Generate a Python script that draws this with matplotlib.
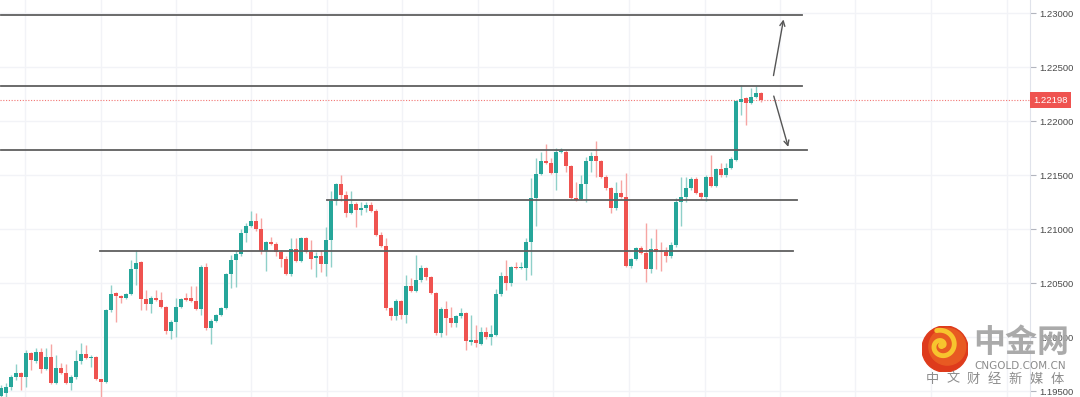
import matplotlib.pyplot as plt
import numpy as np
from matplotlib.patches import Circle

# candle data (EUR/USD)
opens = [1.1946, 1.1949, 1.1954, 1.1963, 1.1967, 1.1963, 1.1986, 1.1978, 1.1987, 1.1971,
         1.1982, 1.1958, 1.1972, 1.1967, 1.1958, 1.1963, 1.1978, 1.1985, 1.1981, 1.1982,
         1.1962, 1.1959, 1.2025, 1.2041, 1.2038, 1.2037, 1.2040, 1.2063, 1.2070, 1.2036,
         1.2031, 1.2037, 1.2035, 1.2028, 1.2006, 1.2014, 1.2028, 1.2037, 1.2037, 1.2034,
         1.2026, 1.2065, 1.2009, 1.2015, 1.2021, 1.2027, 1.2059, 1.2072, 1.2077, 1.2097,
         1.2103, 1.2108, 1.2100, 1.2080, 1.2088, 1.2087, 1.2079, 1.2073, 1.2059, 1.2082,
         1.2071, 1.2092, 1.2079, 1.2074, 1.2075, 1.2068, 1.2090, 1.2126, 1.2142, 1.2132,
         1.2115, 1.2124, 1.2118, 1.2120, 1.2123, 1.2117, 1.2095, 1.2085, 1.2027, 1.2020,
         1.2034, 1.2021, 1.2048, 1.2043, 1.2053, 1.2064, 1.2056, 1.2041, 1.2004, 1.2026,
         1.2018, 1.2013, 1.2020, 1.2023, 1.1996, 1.1998, 1.1994, 1.2005, 1.2000, 1.2002,
         1.2040, 1.2057, 1.2050, 1.2065, 1.2064, 1.2064, 1.2088, 1.2129, 1.2151, 1.2163,
         1.2162, 1.2152, 1.2172, 1.2172, 1.2159, 1.2129, 1.2128, 1.2142, 1.2163, 1.2168,
         1.2163, 1.2149, 1.2138, 1.2120, 1.2134, 1.2130, 1.2066, 1.2073, 1.2083, 1.2078,
         1.2063, 1.2082, 1.2080, 1.2079, 1.2075, 1.2086, 1.2125, 1.2130, 1.2138, 1.2147,
         1.2134, 1.2130, 1.2149, 1.2140, 1.2156, 1.2150, 1.2157, 1.2164, 1.2218, 1.2222,
         1.2217, 1.2223, 1.2226]
highs = [1.1956, 1.1958, 1.1965, 1.1975, 1.1968, 1.1988, 1.1987, 1.1990, 1.1990, 1.1990,
         1.1994, 1.1984, 1.1976, 1.1975, 1.1965, 1.1988, 1.1995, 1.1993, 1.1984, 1.1983,
         1.1962, 1.2026, 1.2049, 1.2042, 1.2039, 1.2041, 1.2072, 1.2081, 1.2071, 1.2044,
         1.2038, 1.2044, 1.2042, 1.2029, 1.2016, 1.2037, 1.2037, 1.2041, 1.2048, 1.2048,
         1.2067, 1.2069, 1.2017, 1.2022, 1.2028, 1.2060, 1.2076, 1.2080, 1.2100, 1.2106,
         1.2117, 1.2115, 1.2111, 1.2089, 1.2093, 1.2088, 1.2081, 1.2075, 1.2092, 1.2092,
         1.2093, 1.2093, 1.2090, 1.2079, 1.2081, 1.2102, 1.2136, 1.2143, 1.2150, 1.2136,
         1.2136, 1.2125, 1.2125, 1.2125, 1.2125, 1.2119, 1.2098, 1.2092, 1.2028, 1.2036,
         1.2035, 1.2058, 1.2055, 1.2076, 1.2067, 1.2065, 1.2057, 1.2042, 1.2028, 1.2034,
         1.2028, 1.2021, 1.2027, 1.2024, 1.2021, 1.2012, 1.2010, 1.2010, 1.2012, 1.2045,
         1.2061, 1.2072, 1.2066, 1.2070, 1.2070, 1.2092, 1.2148, 1.2166, 1.2172, 1.2179,
         1.2166, 1.2175, 1.2175, 1.2174, 1.2160, 1.2144, 1.2150, 1.2167, 1.2172, 1.2182,
         1.2164, 1.2150, 1.2139, 1.2144, 1.2146, 1.2152, 1.2074, 1.2084, 1.2085, 1.2106,
         1.2092, 1.2100, 1.2088, 1.2084, 1.2088, 1.2129, 1.2149, 1.2149, 1.2149, 1.2149,
         1.2135, 1.2150, 1.2169, 1.2157, 1.2162, 1.2162, 1.2167, 1.2220, 1.2234, 1.2223,
         1.2231, 1.2233, 1.2227]
lows = [1.1945, 1.1945, 1.1951, 1.1961, 1.1951, 1.1954, 1.1970, 1.1976, 1.1967, 1.1970,
        1.1957, 1.1957, 1.1966, 1.1957, 1.1951, 1.1962, 1.1975, 1.1980, 1.1973, 1.1961,
        1.1943, 1.1958, 1.2024, 1.2014, 1.2032, 1.2036, 1.2039, 1.2049, 1.2025, 1.2025,
        1.2023, 1.2034, 1.2027, 1.2003, 1.1999, 1.2000, 1.2027, 1.2034, 1.2033, 1.2025,
        1.2021, 1.2007, 1.1994, 1.2014, 1.2020, 1.2026, 1.2046, 1.2047, 1.2075, 1.2088,
        1.2102, 1.2099, 1.2077, 1.2062, 1.2086, 1.2075, 1.2065, 1.2058, 1.2057, 1.2070,
        1.2070, 1.2078, 1.2063, 1.2056, 1.2061, 1.2057, 1.2065, 1.2123, 1.2126, 1.2112,
        1.2114, 1.2102, 1.2113, 1.2116, 1.2116, 1.2094, 1.2084, 1.2025, 1.2016, 1.2016,
        1.2017, 1.2013, 1.2042, 1.2042, 1.2051, 1.2053, 1.2040, 1.2002, 1.2000, 1.2002,
        1.2010, 1.2010, 1.2018, 1.1988, 1.1993, 1.1991, 1.1993, 1.1999, 1.1993, 1.2001,
        1.2038, 1.2044, 1.2048, 1.2063, 1.2063, 1.2053, 1.2058, 1.2103, 1.2150, 1.2161,
        1.2151, 1.2137, 1.2171, 1.2153, 1.2128, 1.2126, 1.2127, 1.2125, 1.2153, 1.2149,
        1.2148, 1.2137, 1.2115, 1.2118, 1.2129, 1.2065, 1.2064, 1.2072, 1.2077, 1.2051,
        1.2060, 1.2063, 1.2062, 1.2070, 1.2074, 1.2084, 1.2103, 1.2125, 1.2137, 1.2133,
        1.2128, 1.2126, 1.2139, 1.2139, 1.2149, 1.2149, 1.2156, 1.2163, 1.2206, 1.2197,
        1.2216, 1.2222, 1.2218]
closes = [1.1953, 1.1954, 1.1963, 1.1967, 1.1963, 1.1986, 1.1979, 1.1987, 1.1971, 1.1982,
          1.1958, 1.1972, 1.1967, 1.1958, 1.1963, 1.1978, 1.1985, 1.1981, 1.1982, 1.1962,
          1.1959, 1.2025, 1.2040, 1.2038, 1.2037, 1.2040, 1.2063, 1.2069, 1.2036, 1.2031,
          1.2037, 1.2035, 1.2028, 1.2006, 1.2014, 1.2028, 1.2036, 1.2035, 1.2034, 1.2026,
          1.2065, 1.2009, 1.2015, 1.2021, 1.2027, 1.2059, 1.2072, 1.2077, 1.2097, 1.2103,
          1.2108, 1.2100, 1.2080, 1.2088, 1.2087, 1.2079, 1.2073, 1.2059, 1.2082, 1.2071,
          1.2092, 1.2079, 1.2073, 1.2075, 1.2068, 1.2090, 1.2126, 1.2142, 1.2132, 1.2115,
          1.2124, 1.2118, 1.2120, 1.2123, 1.2117, 1.2095, 1.2085, 1.2027, 1.2020, 1.2034,
          1.2021, 1.2048, 1.2043, 1.2053, 1.2064, 1.2056, 1.2041, 1.2004, 1.2026, 1.2018,
          1.2013, 1.2020, 1.2023, 1.1997, 1.1998, 1.1995, 1.2005, 1.2000, 1.2003, 1.2040,
          1.2057, 1.2050, 1.2065, 1.2064, 1.2065, 1.2088, 1.2129, 1.2151, 1.2163, 1.2162,
          1.2152, 1.2172, 1.2173, 1.2159, 1.2129, 1.2127, 1.2142, 1.2163, 1.2168, 1.2163,
          1.2149, 1.2138, 1.2120, 1.2134, 1.2130, 1.2066, 1.2073, 1.2083, 1.2078, 1.2063,
          1.2082, 1.2079, 1.2079, 1.2075, 1.2086, 1.2125, 1.2130, 1.2138, 1.2147, 1.2134,
          1.2130, 1.2149, 1.2140, 1.2156, 1.2150, 1.2157, 1.2165, 1.2219, 1.2221, 1.2217,
          1.2223, 1.2226, 1.22198]

last_price = 1.22198
levels = [1.2299, 1.2233, 1.2174, 1.2127, 1.2080]
level_start = [0, 0, 0, 65.2, 19.8]
level_end = [160.2, 160.2, 161.2, 159.2, 158.4]
yticks = [1.195, 1.200, 1.205, 1.210, 1.215, 1.220, 1.225, 1.230]
slogan = ['中', '文', '财', '经', '新', '媒', '体']

up_col = '#26a69a'
dn_col = '#ef5350'

o = np.array(opens)
h = np.array(highs)
l = np.array(lows)
c = np.array(closes)
x = np.arange(len(o))
up = c >= o

fig = plt.figure(figsize=(10.8, 3.97), dpi=100)
ax = fig.add_axes([0, 0, 1030 / 1080, 1])
ax.set_xlim(-0.2, 205.8)
ax.set_ylim(1.19449, 1.23125)

# grid
for gx in np.arange(4.8, 206, 15.1):
    ax.axvline(gx, color='#f2f3f7', lw=1, zorder=0)
for gy in yticks:
    ax.axhline(gy, color='#f2f3f7', lw=1, zorder=0)

# wicks
ax.vlines(x[up], l[up], h[up], color='#8fd0c9', lw=1, zorder=2)
ax.vlines(x[~up], l[~up], h[~up], color='#f6a5a3', lw=1, zorder=2)
# bodies
body_h = np.maximum(np.abs(c - o), 0.00008)
ax.bar(x[up], body_h[up], bottom=np.minimum(o, c)[up], width=0.62,
       color=up_col, zorder=3)
ax.bar(x[~up], body_h[~up], bottom=np.minimum(o, c)[~up], width=0.62,
       color=dn_col, zorder=3)

# support / resistance lines
for lv, x0, x1 in zip(levels, level_start, level_end):
    ax.plot([x0, x1], [lv, lv], color='#5f5f5f', lw=1.3, zorder=4)

# last price line
ax.axhline(last_price, color='#ef5350', lw=0.8, ls=(0, (1, 1.5)), alpha=0.8, zorder=1)

# arrows
ax.annotate('', xy=(156.6, 1.2297), xytext=(154.4, 1.2240),
            arrowprops=dict(arrowstyle='->', color='#555555', lw=1, mutation_scale=9))
ax.annotate('', xy=(157.6, 1.2174), xytext=(154.4, 1.2226),
            arrowprops=dict(arrowstyle='->', color='#555555', lw=1, mutation_scale=9))

# axis styling
for s in ['top', 'left', 'bottom']:
    ax.spines[s].set_visible(False)
ax.spines['right'].set_color('#e0e3eb')
ax.set_xticks([])
ax.yaxis.tick_right()
ax.set_yticks(yticks)
ax.set_yticklabels(['%.5f' % v for v in yticks])
ax.tick_params(axis='y', length=4, color='#b2b5be', pad=3, labelsize=6.8,
               labelcolor='#4a4a4a')
for t in ax.get_yticklabels():
    t.set_family('Liberation Sans')

# last price tag
ax.text(1.0035, last_price, '%.5f' % last_price, transform=ax.get_yaxis_transform(),
        ha='left', va='center', fontsize=6.8, color='white', family='Liberation Sans',
        bbox=dict(boxstyle='square,pad=0.35', fc='#ef5350', ec='none'), zorder=5,
        clip_on=False)

# watermark
lax = fig.add_axes([922 / 1080, (397 - 372) / 397, 46 / 1080, 46 / 397])
lax.set_xlim(-1, 1)
lax.set_ylim(-1, 1)
lax.set_aspect('equal')
lax.axis('off')
lax.add_patch(Circle((0, 0), 1, color='#de3b1c'))
lax.add_patch(Circle((0.1, 0.1), 0.8, color='#e85a22'))
t = np.linspace(0, 2.6 * np.pi, 200)
r = 0.12 + 0.09 * t
lax.plot(-0.15 + r * np.cos(t) * 0.8, 0.15 + r * np.sin(t) * 0.8, color='#f7c42e',
         lw=3.5, solid_capstyle='round')
lax.add_patch(Circle((-0.15, 0.15), 0.12, color='#f7c42e'))

fig.text(1021 / 1080, (397 - 343) / 397, '中金网', ha='center', va='center',
         fontsize=23, fontweight='bold', color='#a6a6a6', family='Noto Sans CJK SC',
         alpha=0.95)
fig.text(1020 / 1080, (397 - 366) / 397, 'CNGOLD.COM.CN', ha='center', va='center',
         fontsize=7.5, color='#8c8c8c', family='DejaVu Sans')
for k, ch in enumerate(slogan):
    fig.text((932 + 20.8 * k) / 1080, (397 - 379) / 397, ch, ha='center',
             va='center', fontsize=9.5, color='#8c8c8c', family='Noto Sans CJK SC')

fig.savefig('out.png', dpi=100)
